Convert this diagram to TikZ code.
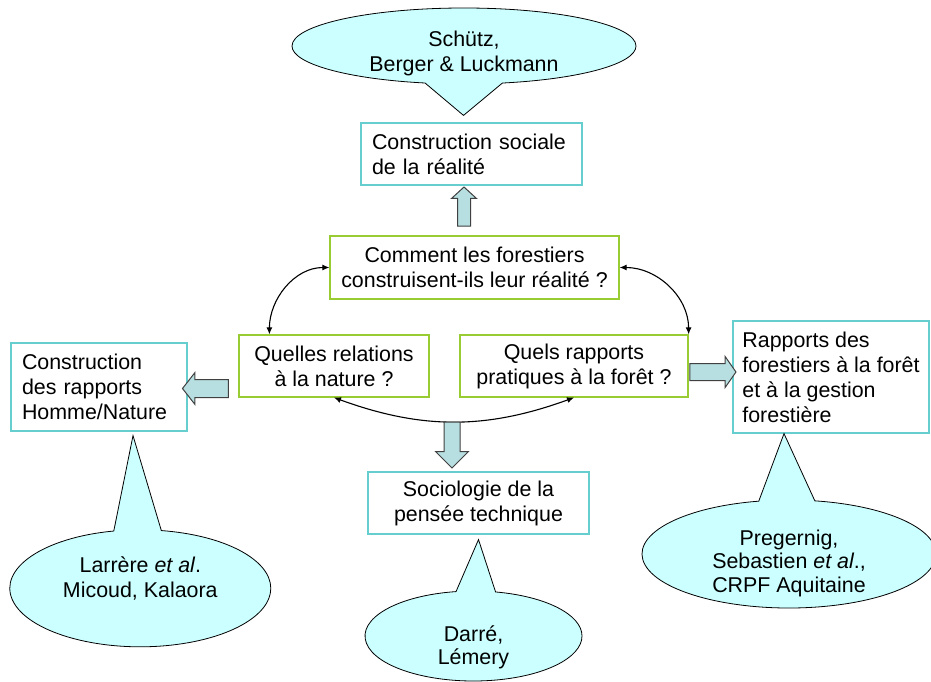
\documentclass[tikz,border=0pt]{standalone}
\usepackage{fontspec}
\setmainfont{Liberation Sans}
\usepackage{tikz}
\usetikzlibrary{positioning,calc,shapes.callouts,shapes.arrows,arrows.meta}

\definecolor{turq}{RGB}{102,206,206}
\definecolor{leafgreen}{RGB}{153,204,51}
\definecolor{bubblefill}{RGB}{204,255,255}
\definecolor{arrowfill}{RGB}{183,222,224}
\definecolor{arrowline}{RGB}{64,64,64}

\tikzset{
  every node/.style={font=\fontsize{21.4}{25}\selectfont},
  theory/.style={draw=turq, line width=1.2pt, inner ysep=0pt},
  question/.style={draw=leafgreen, line width=1.2pt, align=center, inner sep=0pt},
  bubble/.style={ellipse callout, draw=black, line width=0.8pt, fill=bubblefill, inner sep=0pt},
  bubbletext/.style={align=center, inner sep=0pt},
  blockarrow/.style={single arrow, draw=arrowline, fill=arrowfill, line width=1pt,
    inner xsep=0pt, text height=0pt, text depth=0pt},
  link/.style={{Latex[length=7pt,width=6pt]}-{Latex[length=7pt,width=6pt]}, line width=1.1pt}
}

\begin{document}
\begin{tikzpicture}[x=1pt,y=1pt]
  \useasboundingbox (0,0) rectangle (931,-682);

  \node[theory, text width=199pt, inner xsep=11pt, minimum height=62pt, align=left] (cs) at (471.5,-154)
    {Construction sociale\\de la réalité};
  \node[question, minimum width=289pt, minimum height=63pt] (cq) at (474.5,-267.5)
    {Comment les forestiers\\construisent-ils leur réalité ?};
  \node[question, minimum width=190pt, minimum height=62pt] (ql) at (334,-366)
    {Quelles relations\\à la nature ?};
  \node[question, minimum width=228pt, minimum height=62pt] (qr) at (574,-366)
    {Quels rapports\\pratiques à la forêt ?};
  \node[theory, text width=154pt, inner xsep=11pt, minimum height=88pt, align=left] (chn) at (99,-387)
    {Construction\\des rapports\\Homme/Nature};
  \node[theory, inner xsep=0pt, minimum width=196pt, minimum height=112pt, align=left] (rf) at (831,-377)
    {Rapports des\\forestiers à la forêt\\et à la gestion\\forestière};
  \node[theory, minimum width=221pt, minimum height=62pt, align=center, inner xsep=0pt] (sp) at (478.5,-503)
    {Sociologie de la\\pensée technique};

  \node[bubble, minimum width=344pt, minimum height=76pt, callout pointer arc=26,
        callout absolute pointer={($(cs.north)+(-8,7)$)},
        label={[bubbletext, yshift=-7pt]center:{Schütz,\\Berger \& Luckmann}}] (schutz) at (464,-46) {};
  \node[bubble, minimum width=261pt, minimum height=117pt, callout pointer arc=21,
        callout absolute pointer={($(chn.south)+(34,-4)$)},
        label={[bubbletext, yshift=10pt]center:{Larrère \textit{et al}.\\Micoud, Kalaora}}] (larrere) at (140.3,-588.3) {};
  \node[bubble, minimum width=294pt, minimum height=108pt, callout pointer arc=22,
        callout absolute pointer={($(rf.south)+(-47,0)$)},
        label={[bubbletext, yshift=-9pt, font=\fontsize{21.4}{23.5}\selectfont]center:{Pregernig,\\Sebastien \textit{et al}.,\\CRPF Aquitaine}}] (pregernig) at (789,-554) {};
  \node[bubble, minimum width=217pt, minimum height=90pt, callout pointer arc=21,
        callout absolute pointer={($(sp.south)+(0,-5)$)},
        label={[bubbletext, yshift=-11pt, font=\fontsize{21.4}{23}\selectfont]center:{Darré,\\Lémery}}] (darre) at (473.5,-636) {};

  \draw[link] (cq.west) to[out=180,in=90] ($(ql.north west)+(31,0)$);
  \draw[link] (cq.east) to[out=0,in=90] (qr.north east);
  \draw[link] (ql.south) to[bend right=20] (qr.south);

  \node[blockarrow, rotate=90, minimum height=39pt, minimum width=24pt, inner ysep=6pt,
        single arrow head extend=6pt, single arrow tip angle=95] (upa) at (464,-209.5) {};
  \node[blockarrow, rotate=180, minimum height=46pt, minimum width=31pt, inner ysep=8.5pt,
        single arrow head extend=7pt, single arrow tip angle=104] (lefta) at (209,-388.5) {};
  \node[blockarrow, minimum height=46pt, minimum width=30pt, inner ysep=8pt,
        single arrow head extend=7pt, single arrow tip angle=110] (righta) at (710,-372) {};
  \node[blockarrow, rotate=-90, minimum height=46pt, minimum width=32pt, inner ysep=7.5pt,
        single arrow head extend=8.5pt, single arrow tip angle=90] (downa) at (452,-441) {};
\end{tikzpicture}
\end{document}
